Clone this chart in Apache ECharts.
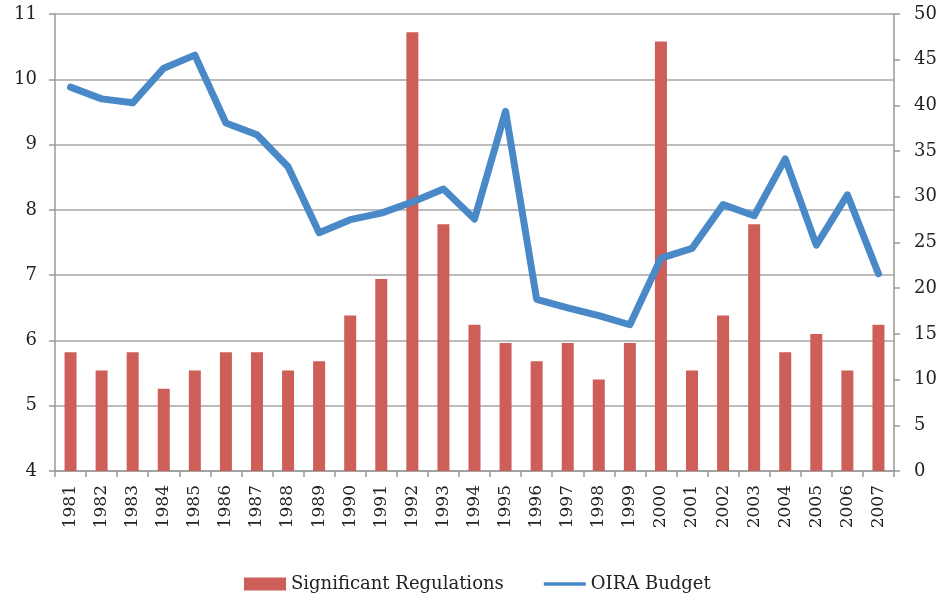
<!DOCTYPE html>
<html><head><meta charset="utf-8">
<script src="https://cdn.jsdelivr.net/npm/echarts@6/dist/echarts.min.js"></script>
<style>html,body{margin:0;padding:0;background:#fff}#c{width:942px;height:596px}</style>
</head><body><div id="c"></div>
<script>
var years = ['1981','1982','1983','1984','1985','1986','1987','1988','1989','1990','1991','1992','1993','1994','1995','1996','1997','1998','1999','2000','2001','2002','2003','2004','2005','2006','2007'];
var significantRegulations = [13,11,13,9,11,13,13,11,12,17,21,48,27,16,14,12,14,10,14,47,11,17,27,13,15,11,16];
var oiraBudget = [9.88,9.70,9.64,10.17,10.37,9.33,9.15,8.66,7.65,7.85,7.95,8.12,8.32,7.86,9.51,6.63,6.50,6.38,6.24,7.26,7.41,8.08,7.91,8.78,7.46,8.23,7.02];
var leftTicks = [4,5,6,7,8,9,10,11];
var rightTicks = [0,5,10,15,20,25,30,35,40,45,50];

var FONT = 'DejaVu Serif';
var chart = echarts.init(document.getElementById('c'));
chart.setOption({
  animation: false,
  textStyle: {fontFamily: FONT},
  grid: {left: 55, right: 48, top: 14, bottom: 125, containLabel: false},
  legend: {
    left: 239, top: 570, itemGap: 40, itemWidth: 42, itemHeight: 13,
    symbolKeepAspect: true,
    textStyle: {fontFamily: FONT, fontSize: 18, color: '#222'},
    data: [
      {name: 'Significant Regulations', icon: 'rect'},
      {name: 'OIRA Budget', icon: 'path://M0,0h84v7h-84z'}
    ]
  },
  xAxis: {
    type: 'category', data: years, boundaryGap: true,
    axisLine: {lineStyle: {color: '#999', width: 1.5}},
    axisTick: {show: true, length: 6, lineStyle: {color: '#999', width: 1.5}},
    axisLabel: {rotate: 90, fontFamily: FONT, fontSize: 17, color: '#222', margin: 14, interval: 0}
  },
  yAxis: [
    {
      type: 'value', min: leftTicks[0], max: leftTicks[leftTicks.length-1], interval: 1, position: 'left',
      axisLine: {show: true, lineStyle: {color: '#999', width: 1.5}},
      axisTick: {show: true, length: 6, lineStyle: {color: '#999', width: 1.5}},
      splitLine: {show: true, lineStyle: {color: '#a6a6a6', width: 1.5}},
      axisLabel: {fontFamily: FONT, fontSize: 18, color: '#222', margin: 18}
    },
    {
      type: 'value', min: rightTicks[0], max: rightTicks[rightTicks.length-1], interval: 5, position: 'right',
      axisLine: {show: true, lineStyle: {color: '#999', width: 1.5}},
      axisTick: {show: true, length: 6, lineStyle: {color: '#999', width: 1.5}},
      splitLine: {show: false},
      axisLabel: {fontFamily: FONT, fontSize: 18, color: '#222', margin: 20}
    }
  ],
  series: [
    {
      name: 'Significant Regulations', type: 'bar', yAxisIndex: 1, data: significantRegulations,
      barWidth: 12, itemStyle: {color: '#CD5E58'}
    },
    {
      name: 'OIRA Budget', type: 'line', yAxisIndex: 0, data: oiraBudget,
      showSymbol: false, symbol: 'none',
      lineStyle: {color: '#4A89C8', width: 7, join: 'round', cap: 'round'},
      itemStyle: {color: '#4A89C8'}
    }
  ]
});
</script>
</body></html>
